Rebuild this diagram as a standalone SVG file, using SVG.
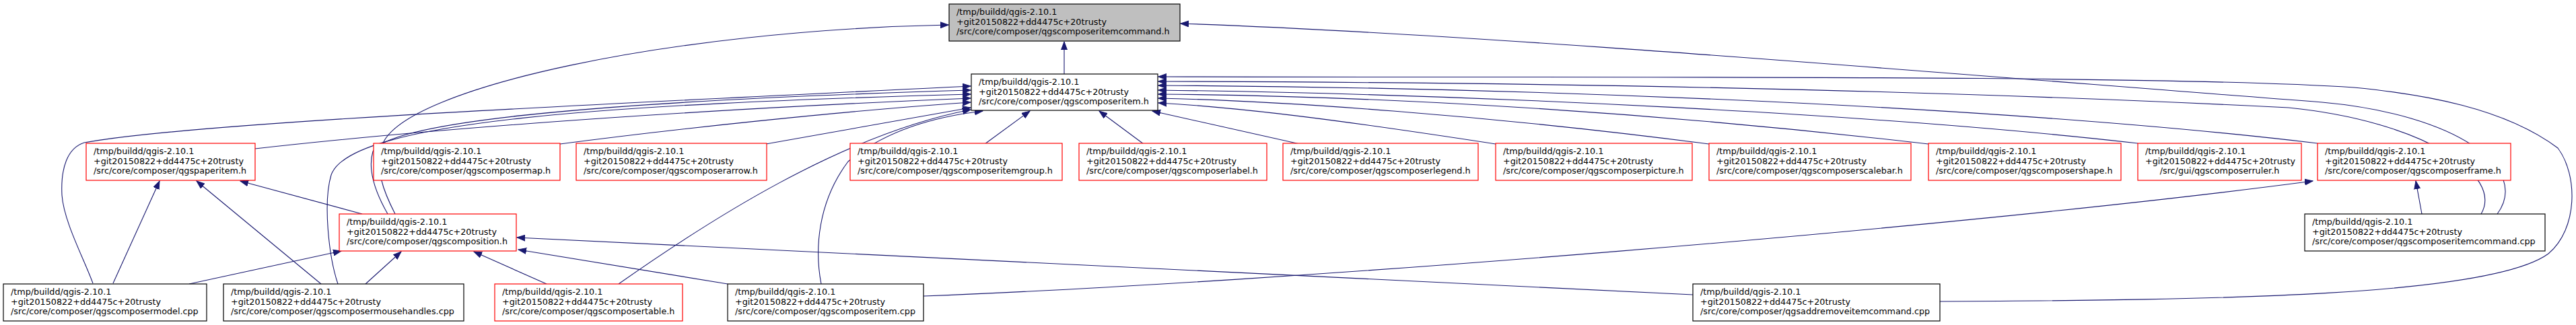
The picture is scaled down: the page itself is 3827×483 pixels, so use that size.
<svg xmlns="http://www.w3.org/2000/svg" width="3827" height="483" viewBox="0 0 3827 483">
<style>
rect{fill:#fff;stroke:#000;stroke-width:1.2}
.red rect{stroke:#ff0000}
.top rect{fill:#bfbfbf}
text{font-family:"DejaVu Sans",sans-serif;font-size:12.75px;fill:#000}
.c{text-anchor:middle}
#edges path{fill:none;stroke:#191970;stroke-width:1.1;marker-end:url(#ah)}
</style>
<defs>
<marker id="ah" markerWidth="13" markerHeight="10" refX="12" refY="5" orient="auto" markerUnits="userSpaceOnUse">
<path d="M0,0.5 L12,5 L0,9.5 z" fill="#191970" stroke="#191970" stroke-width="1"/>
</marker>
</defs>
<rect x="0" y="0" width="3827" height="483" style="fill:#fff;stroke:none"/>
<g id="edges">
<path d="M1581,110 L1581,62"/>
<path d="M587,318 C570,285 556,250 568,215 C600,130 1000,45 1409,37"/>
<path d="M576,318 C560,290 545,255 554,225 C580,180 900,150 1442,134"/>
<path d="M502,422 C488,380 480,300 492,260 C520,180 900,155 1442,140"/>
<path d="M138,421 C125,385 95,330 92,290 C90,250 100,220 125,212 C300,180 1000,150 1442,128"/>
<path d="M168,421 L237,269"/>
<path d="M281,422 L507,373"/>
<path d="M477,422 L292,269"/>
<path d="M543,422 L596,374"/>
<path d="M538,318 L357,269"/>
<path d="M379,221 C700,185 1100,160 1442,146"/>
<path d="M832,214 C1000,192 1250,165 1442,152"/>
<path d="M1138,214 L1442,160"/>
<path d="M919,422 C1050,330 1250,200 1442,163"/>
<path d="M1220,422 C1210,370 1215,300 1260,240 C1320,190 1400,172 1460,165"/>
<path d="M1463,214 L1530,165"/>
<path d="M1699,214 L1633,165"/>
<path d="M1931,214 L1712,165"/>
<path d="M2222,214 C2000,180 1850,160 1721,153"/>
<path d="M2539,214 C2200,170 1900,150 1721,146"/>
<path d="M2865,214 C2400,160 2000,142 1721,140"/>
<path d="M3176,213 C2800,170 2200,140 1721,134"/>
<path d="M3443,213 C3000,160 2300,130 1721,127"/>
<path d="M3686,318 C3720,260 3600,180 3400,160 C2800,130 2200,122 1721,121"/>
<path d="M3710,318 C3760,250 3650,170 3450,152 C2900,110 2200,50 1754,35"/>
<path d="M2882,448 C3300,446 3700,440 3786,377 C3830,340 3830,260 3800,220 C3720,160 3600,140 3497,130 C3200,110 2300,116 1721,114"/>
<path d="M1081,422 L770,371"/>
<path d="M812,422 L704,374"/>
<path d="M2515,438 L768,353"/>
<path d="M3598,318 L3589,269"/>
<path d="M1372,440 C1900,420 2900,340 3436,269"/>
</g>
<g id="n_itemcommand_h" class="top"><rect x="1410" y="6" width="343" height="55"/><text><tspan x="1421" y="22">/tmp/buildd/qgis-2.10.1</tspan><tspan x="1421" y="36.5">+git20150822+dd4475c+20trusty</tspan><tspan x="1421" y="51">/src/core/composer/qgscomposeritemcommand.h</tspan></text></g>
<g id="n_composeritem_h"><rect x="1443" y="110" width="277" height="54"/><text><tspan x="1454" y="126">/tmp/buildd/qgis-2.10.1</tspan><tspan x="1454" y="140.5">+git20150822+dd4475c+20trusty</tspan><tspan x="1454" y="155">/src/core/composer/qgscomposeritem.h</tspan></text></g>
<g id="n_paperitem_h" class="red"><rect x="128" y="213" width="251" height="55"/><text><tspan x="139" y="229">/tmp/buildd/qgis-2.10.1</tspan><tspan x="139" y="243.5">+git20150822+dd4475c+20trusty</tspan><tspan x="139" y="258">/src/core/composer/qgspaperitem.h</tspan></text></g>
<g id="n_composermap_h" class="red"><rect x="555" y="213" width="277" height="55"/><text><tspan x="566" y="229">/tmp/buildd/qgis-2.10.1</tspan><tspan x="566" y="243.5">+git20150822+dd4475c+20trusty</tspan><tspan x="566" y="258">/src/core/composer/qgscomposermap.h</tspan></text></g>
<g id="n_composerarrow_h" class="red"><rect x="856" y="213" width="283" height="55"/><text><tspan x="867" y="229">/tmp/buildd/qgis-2.10.1</tspan><tspan x="867" y="243.5">+git20150822+dd4475c+20trusty</tspan><tspan x="867" y="258">/src/core/composer/qgscomposerarrow.h</tspan></text></g>
<g id="n_itemgroup_h" class="red"><rect x="1263" y="213" width="315" height="55"/><text><tspan x="1274" y="229">/tmp/buildd/qgis-2.10.1</tspan><tspan x="1274" y="243.5">+git20150822+dd4475c+20trusty</tspan><tspan x="1274" y="258">/src/core/composer/qgscomposeritemgroup.h</tspan></text></g>
<g id="n_label_h" class="red"><rect x="1603" y="213" width="279" height="55"/><text><tspan x="1614" y="229">/tmp/buildd/qgis-2.10.1</tspan><tspan x="1614" y="243.5">+git20150822+dd4475c+20trusty</tspan><tspan x="1614" y="258">/src/core/composer/qgscomposerlabel.h</tspan></text></g>
<g id="n_legend_h" class="red"><rect x="1906" y="213" width="290" height="55"/><text><tspan x="1917" y="229">/tmp/buildd/qgis-2.10.1</tspan><tspan x="1917" y="243.5">+git20150822+dd4475c+20trusty</tspan><tspan x="1917" y="258">/src/core/composer/qgscomposerlegend.h</tspan></text></g>
<g id="n_picture_h" class="red"><rect x="2222" y="213" width="292" height="55"/><text><tspan x="2233" y="229">/tmp/buildd/qgis-2.10.1</tspan><tspan x="2233" y="243.5">+git20150822+dd4475c+20trusty</tspan><tspan x="2233" y="258">/src/core/composer/qgscomposerpicture.h</tspan></text></g>
<g id="n_scalebar_h" class="red"><rect x="2539" y="213" width="300" height="55"/><text><tspan x="2550" y="229">/tmp/buildd/qgis-2.10.1</tspan><tspan x="2550" y="243.5">+git20150822+dd4475c+20trusty</tspan><tspan x="2550" y="258">/src/core/composer/qgscomposerscalebar.h</tspan></text></g>
<g id="n_shape_h" class="red"><rect x="2865" y="213" width="286" height="55"/><text><tspan x="2876" y="229">/tmp/buildd/qgis-2.10.1</tspan><tspan x="2876" y="243.5">+git20150822+dd4475c+20trusty</tspan><tspan x="2876" y="258">/src/core/composer/qgscomposershape.h</tspan></text></g>
<g id="n_ruler_h" class="red"><rect x="3176" y="213" width="243" height="55"/><text><tspan x="3187" y="229">/tmp/buildd/qgis-2.10.1</tspan><tspan x="3187" y="243.5">+git20150822+dd4475c+20trusty</tspan><tspan class="c" x="3297.5" y="258">/src/gui/qgscomposerruler.h</tspan></text></g>
<g id="n_frame_h" class="red"><rect x="3443" y="213" width="287" height="55"/><text><tspan x="3454" y="229">/tmp/buildd/qgis-2.10.1</tspan><tspan x="3454" y="243.5">+git20150822+dd4475c+20trusty</tspan><tspan x="3454" y="258">/src/core/composer/qgscomposerframe.h</tspan></text></g>
<g id="n_composition_h" class="red"><rect x="504" y="318" width="263" height="55"/><text><tspan x="515" y="334">/tmp/buildd/qgis-2.10.1</tspan><tspan x="515" y="348.5">+git20150822+dd4475c+20trusty</tspan><tspan x="515" y="363">/src/core/composer/qgscomposition.h</tspan></text></g>
<g id="n_itemcommand_cpp"><rect x="3424" y="318" width="357" height="55"/><text><tspan x="3435" y="334">/tmp/buildd/qgis-2.10.1</tspan><tspan x="3435" y="348.5">+git20150822+dd4475c+20trusty</tspan><tspan x="3435" y="363">/src/core/composer/qgscomposeritemcommand.cpp</tspan></text></g>
<g id="n_model_cpp"><rect x="5" y="422" width="302" height="55"/><text><tspan x="16" y="438">/tmp/buildd/qgis-2.10.1</tspan><tspan x="16" y="452.5">+git20150822+dd4475c+20trusty</tspan><tspan x="16" y="467">/src/core/composer/qgscomposermodel.cpp</tspan></text></g>
<g id="n_mousehandles_cpp"><rect x="332" y="422" width="357" height="55"/><text><tspan x="343" y="438">/tmp/buildd/qgis-2.10.1</tspan><tspan x="343" y="452.5">+git20150822+dd4475c+20trusty</tspan><tspan x="343" y="467">/src/core/composer/qgscomposermousehandles.cpp</tspan></text></g>
<g id="n_table_h" class="red"><rect x="735" y="422" width="279" height="55"/><text><tspan x="746" y="438">/tmp/buildd/qgis-2.10.1</tspan><tspan x="746" y="452.5">+git20150822+dd4475c+20trusty</tspan><tspan x="746" y="467">/src/core/composer/qgscomposertable.h</tspan></text></g>
<g id="n_composeritem_cpp"><rect x="1081" y="422" width="291" height="55"/><text><tspan x="1092" y="438">/tmp/buildd/qgis-2.10.1</tspan><tspan x="1092" y="452.5">+git20150822+dd4475c+20trusty</tspan><tspan x="1092" y="467">/src/core/composer/qgscomposeritem.cpp</tspan></text></g>
<g id="n_addremove_cpp"><rect x="2515" y="422" width="367" height="55"/><text><tspan x="2526" y="438">/tmp/buildd/qgis-2.10.1</tspan><tspan x="2526" y="452.5">+git20150822+dd4475c+20trusty</tspan><tspan x="2526" y="467">/src/core/composer/qgsaddremoveitemcommand.cpp</tspan></text></g>
</svg>
